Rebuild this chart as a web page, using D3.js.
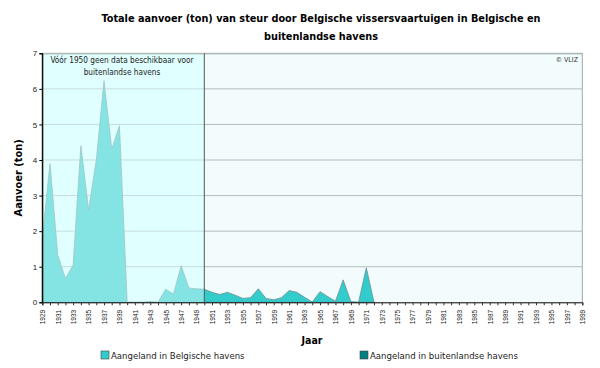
<!DOCTYPE html>
<html><head><meta charset="utf-8">
<script src="https://cdn.jsdelivr.net/npm/d3@7"></script>
<style>body{margin:0;background:#fff}svg{display:block}text{font-family:"DejaVu Sans Condensed","DejaVu Sans",sans-serif}</style>
</head><body><svg id="c" width="600" height="368"></svg>
<script>
const years = d3.range(1929, 1973);
const belgischeHavens = [1.8,3.9,1.33,0.67,1.05,4.4,2.6,4.0,6.23,4.31,4.96,0,0,0,0.02,0,0.37,0.23,1.03,0.4,0.38,
  0.37,0.28,0.22,0.28,0.2,0.11,0.13,0.38,0.11,0.07,0.13,0.33,0.28,0.14,0.01,0.3,0.16,0.03,0.63,0.02,0,0.97,0];
const buitenlandseHavens = [null,null,null,null,null,null,null,null,null,null,null,null,null,null,null,null,null,null,null,null,null,
  0,0,0,0,0,0,0,0,0,0,0,0,0,0,0,0,0,0,0,0,0,0,0];
const yTicks = [0,1,2,3,4,5,6,7];
const xTickYears = d3.range(1929, 2000, 2);
const seriesNames = ["Aangeland in Belgische havens","Aangeland in buitenlandse havens"];
const colors = ["#33cccc","#008080"];

const svg = d3.select("#c");
const x = d3.scaleLinear().domain([1929,1999]).range([42.3,582.3]);
const y = d3.scaleLinear().domain([0,7]).range([302.3,53.3]);

// backgrounds
svg.append("rect").attr("x",x(1950)).attr("y",y(7)).attr("width",x(1999)-x(1950)).attr("height",y(0)-y(7)).attr("fill","#f2fcfc");
svg.append("rect").attr("x",x(1929)).attr("y",y(7)).attr("width",x(1950)-x(1929)).attr("height",y(0)-y(7)).attr("fill","#e0ffff");

// grid
svg.append("g").selectAll("line").data(yTicks.filter(d=>d>0)).join("line")
  .attr("x1",x(1929)).attr("x2",x(1999)).attr("y1",d=>y(d)).attr("y2",d=>y(d))
  .attr("stroke","#b4bcbc").attr("stroke-width",1);

// areas
const data = years.map((yr,i)=>({yr, b: belgischeHavens[i], f: buitenlandseHavens[i]}));
const areaB = d3.area().x(d=>x(d.yr)).y0(y(0)).y1(d=>y(d.b));
svg.append("path").datum(data).attr("d",areaB).attr("fill",colors[0]).attr("stroke","#6f8f8f").attr("stroke-width",0.8);
const fData = data.filter(d=>d.f!==null);
const areaF = d3.area().x(d=>x(d.yr)).y0(d=>y(d.b)).y1(d=>y(d.b+d.f));
svg.append("path").datum(fData).attr("d",areaF).attr("fill",colors[1]).attr("stroke","none");

// overlay pre-1950
svg.append("rect").attr("x",x(1929)).attr("y",y(7)).attr("width",x(1950)-x(1929)).attr("height",y(0)-y(7)).attr("fill","#e0ffff").attr("opacity",0.47);

// frame
svg.append("line").attr("x1",x(1929)).attr("x2",x(1999)).attr("y1",y(7)+0.5).attr("y2",y(7)+0.5).attr("stroke","#a0a8a8");
svg.append("line").attr("x1",x(1999)).attr("x2",x(1999)).attr("y1",y(7)).attr("y2",y(0)).attr("stroke","#a0a8a8");
svg.append("line").attr("x1",x(1950)).attr("x2",x(1950)).attr("y1",y(7)).attr("y2",y(0)).attr("stroke","#555");
svg.append("line").attr("x1",x(1929)).attr("x2",x(1929)).attr("y1",y(7)).attr("y2",y(0)).attr("stroke","#000");

// axes
const xAxisMinor = d3.axisBottom(x).tickValues(d3.range(1929,2000)).tickSize(3).tickFormat("");
const gxm = svg.append("g").attr("transform",`translate(0,${y(0)})`).call(xAxisMinor);
gxm.select(".domain").attr("stroke","#000");
gxm.selectAll(".tick line").attr("stroke","#333");
const xAxis = d3.axisBottom(x).tickValues(xTickYears).tickSize(0).tickPadding(0).tickFormat(d3.format("d"));
const gx = svg.append("g").attr("transform",`translate(0,${y(0)})`).call(xAxis);
gx.select(".domain").remove();
gx.selectAll(".tick text").attr("transform","translate(2.3,7.5) rotate(-90)").attr("text-anchor","end").attr("dy",0).attr("dx",0)
  .attr("x",0).attr("y",0).style("font-family","Liberation Sans").style("font-size","6.5px").attr("fill","#222");

const yAxis = d3.axisLeft(y).tickValues(yTicks).tickSize(3).tickPadding(2).tickFormat(d3.format("d"));
const gy = svg.append("g").attr("transform",`translate(${x(1929)},0)`).call(yAxis);
gy.select(".domain").attr("stroke","#000");
gy.selectAll(".tick text").style("font-family","Liberation Sans").style("font-size","8px").attr("fill","#222");

// texts
const title = svg.append("g").attr("font-weight","bold").attr("font-size","10.8px").attr("text-anchor","middle").attr("fill","#000");
title.append("text").attr("x",321).attr("y",22).text("Totale aanvoer (ton) van steur door Belgische vissersvaartuigen in Belgische en");
title.append("text").attr("x",321).attr("y",40).text("buitenlandse havens");

svg.append("text").attr("transform",`translate(22,${(y(0)+y(7))/2}) rotate(-90)`).attr("text-anchor","middle")
  .attr("font-weight","bold").attr("font-size","11px").text("Aanvoer (ton)");
svg.append("text").attr("x",312).attr("y",344).attr("text-anchor","middle").attr("font-weight","bold").attr("font-size","10.5px").text("Jaar");

const note = svg.append("g").attr("text-anchor","middle").attr("font-size","8.2px").attr("fill","#222");
note.append("text").attr("x",122).attr("y",63).text("Vóór 1950 geen data beschikbaar voor");
note.append("text").attr("x",122).attr("y",75).text("buitenlandse havens");
svg.append("text").attr("x",578).attr("y",62).attr("text-anchor","end").attr("font-size","7px").attr("fill","#333").text("© VLIZ");

// legend
const legX = [101, 360];
const lg = svg.append("g").selectAll("g").data(seriesNames).join("g").attr("transform",(d,i)=>`translate(${legX[i]},351)`);
lg.append("rect").attr("width",8).attr("height",8).attr("fill",(d,i)=>colors[i]).attr("stroke","#444").attr("stroke-width",0.6);
lg.append("text").attr("x",10).attr("y",8).attr("font-size","9.5px").attr("fill","#222").text(d=>d);
</script></body></html>
